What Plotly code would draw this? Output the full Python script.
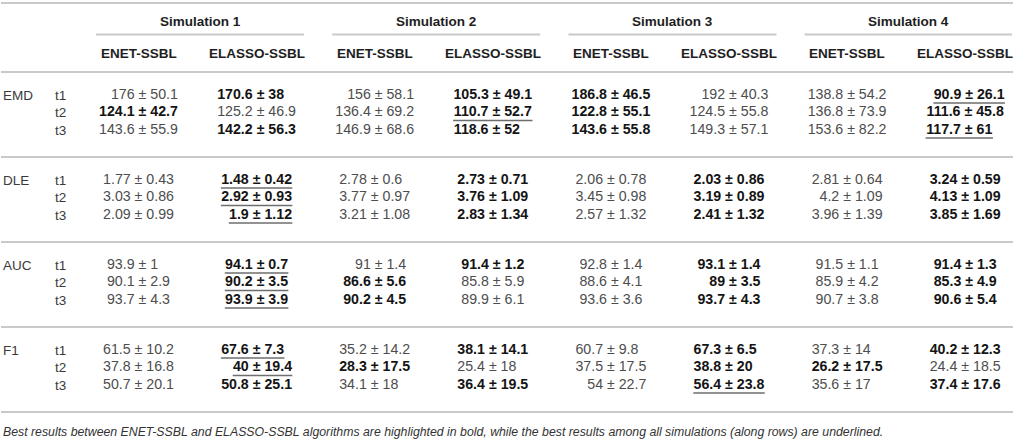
import plotly.graph_objects as go

# ---------------- data ----------------
simulations = ["Simulation 1", "Simulation 2", "Simulation 3", "Simulation 4"]
methods = ["ENET-SSBL", "ELASSO-SSBL"]
metrics = ["EMD", "DLE", "AUC", "F1"]
times = ["t1", "t2", "t3"]

# columns: S1-ENET, S1-ELASSO, S2-ENET, S2-ELASSO, S3-ENET, S3-ELASSO, S4-ENET, S4-ELASSO
emd_mean = [[176, 170.6, 156, 105.3, 186.8, 192, 138.8, 90.9],
            [124.1, 125.2, 136.4, 110.7, 122.8, 124.5, 136.8, 111.6],
            [143.6, 142.2, 146.9, 118.6, 143.6, 149.3, 153.6, 117.7]]
emd_sd = [[50.1, 38, 58.1, 49.1, 46.5, 40.3, 54.2, 26.1],
          [42.7, 46.9, 69.2, 52.7, 55.1, 55.8, 73.9, 45.8],
          [55.9, 56.3, 68.6, 52, 55.8, 57.1, 82.2, 61]]
dle_mean = [[1.77, 1.48, 2.78, 2.73, 2.06, 2.03, 2.81, 3.24],
            [3.03, 2.92, 3.77, 3.76, 3.45, 3.19, 4.2, 4.13],
            [2.09, 1.9, 3.21, 2.83, 2.57, 2.41, 3.96, 3.85]]
dle_sd = [[0.43, 0.42, 0.6, 0.71, 0.78, 0.86, 0.64, 0.59],
          [0.86, 0.93, 0.97, 1.09, 0.98, 0.89, 1.09, 1.09],
          [0.99, 1.12, 1.08, 1.34, 1.32, 1.32, 1.39, 1.69]]
auc_mean = [[93.9, 94.1, 91, 91.4, 92.8, 93.1, 91.5, 91.4],
            [90.1, 90.2, 86.6, 85.8, 88.6, 89, 85.9, 85.3],
            [93.7, 93.9, 90.2, 89.9, 93.6, 93.7, 90.7, 90.6]]
auc_sd = [[1, 0.7, 1.4, 1.2, 1.4, 1.4, 1.1, 1.3],
          [2.9, 3.5, 5.6, 5.9, 4.1, 3.5, 4.2, 4.9],
          [4.3, 3.9, 4.5, 6.1, 3.6, 4.3, 3.8, 5.4]]
f1_mean = [[61.5, 67.6, 35.2, 38.1, 60.7, 67.3, 37.3, 40.2],
           [37.8, 40, 28.3, 25.4, 37.5, 38.8, 26.2, 24.4],
           [50.7, 50.8, 34.1, 36.4, 54, 56.4, 35.6, 37.4]]
f1_sd = [[10.2, 7.3, 14.2, 14.1, 9.8, 6.5, 14, 12.3],
         [16.8, 19.4, 17.5, 18, 17.5, 20, 17.5, 18.5],
         [20.1, 25.1, 18, 19.5, 22.7, 23.8, 17, 17.6]]

# best between ENET / ELASSO (bold in source)
emd_best_pair = [[0, 1, 0, 1, 1, 0, 0, 1], [1, 0, 0, 1, 1, 0, 0, 1], [0, 1, 0, 1, 1, 0, 0, 1]]
dle_best_pair = [[0, 1, 0, 1, 0, 1, 0, 1], [0, 1, 0, 1, 0, 1, 0, 1], [0, 1, 0, 1, 0, 1, 0, 1]]
auc_best_pair = [[0, 1, 0, 1, 0, 1, 0, 1], [0, 1, 1, 0, 0, 1, 0, 1], [0, 1, 1, 0, 0, 1, 0, 1]]
f1_best_pair = [[0, 1, 0, 1, 0, 1, 0, 1], [0, 1, 1, 0, 0, 1, 1, 0], [0, 1, 0, 1, 0, 1, 0, 1]]
# best along the row among all simulations (underlined in source): column index per row
emd_best_row = [7, 3, 7]
dle_best_row = [1, 1, 1]
auc_best_row = [1, 1, 1]
f1_best_row = [1, 1, 5]

caption = ("Best results between ENET-SSBL and ELASSO-SSBL algorithms are highlighted in bold, "
           "while the best results among all simulations (along rows) are underlined.")

means = [emd_mean, dle_mean, auc_mean, f1_mean]
sds = [emd_sd, dle_sd, auc_sd, f1_sd]
best_pairs = [emd_best_pair, dle_best_pair, auc_best_pair, f1_best_pair]
best_rows = [emd_best_row, dle_best_row, auc_best_row, f1_best_row]

# ---------------- layout constants ----------------
W, H = 1016, 441
FONT = "Liberation Sans"
FS_NUM = 14.2
FS_HEAD = 13.5
FS_LABEL = 13.5
COL0, COL_STEP = 138.5, 118.1
HEADER_LINE_Y = 72.0
GROUP_STEP = 85.0
FIRST_OFFSET = 23.0      # header/separator line -> first row of a block
ROW_STEP = 17.5
HEAD1_Y, HEAD2_Y = 21.0, 53.0
TOP_LINE_Y, GROUP_LINE_Y = 3.0, 34.5
CAPTION_Y = 432.0
LINE_COLOR = "#c9c9c9"
REG_COLOR = "#4d4d4d"
BOLD_COLOR = "#141414"
LABEL_COLOR = "#3a3a3a"
UNDERLINE_COLOR = "#6e6e6e"

CHAR_W = {".": 0.278, " ": 0.278, "\u00b1": 0.584}


def tw(s):
    return sum(CHAR_W.get(ch, 0.556) for ch in s)


def fmt(v):
    return f"{v:g}"


ncols = len(simulations) * len(methods)
col_x = [COL0 + COL_STEP * c for c in range(ncols)]

shapes = []


def hline(x0, x1, y, width=2.0, color=LINE_COLOR):
    shapes.append(dict(type="line", xref="x", yref="y", x0=x0, x1=x1, y0=y, y1=y,
                       line=dict(color=color, width=width), layer="above"))


xs, ys, texts, colors = [], [], [], []
for g in range(len(metrics)):
    block_top = HEADER_LINE_Y + g * GROUP_STEP
    for c in range(ncols):
        lefts = [tw(fmt(means[g][r][c]) + " ") + CHAR_W["\u00b1"] / 2 for r in range(len(times))]
        rights = [tw(" " + fmt(sds[g][r][c])) + CHAR_W["\u00b1"] / 2 for r in range(len(times))]
        L, R = max(lefts), max(rights)
        pm_x = col_x[c] + (L - R) / 2 * FS_NUM
        for r in range(len(times)):
            s = f"{fmt(means[g][r][c])} \u00b1 {fmt(sds[g][r][c])}"
            bold = best_pairs[g][r][c] == 1
            cx = pm_x + (rights[r] - lefts[r]) / 2 * FS_NUM
            cy = block_top + FIRST_OFFSET + r * ROW_STEP
            xs.append(cx)
            ys.append(cy)
            texts.append(f"<b>{s}</b>" if bold else s)
            colors.append(BOLD_COLOR if bold else REG_COLOR)
            if best_rows[g][r] == c:
                half = tw(s) * FS_NUM / 2
                hline(cx - half, cx + half, cy + 8, width=1.6, color=UNDERLINE_COLOR)

fig = go.Figure()
fig.add_trace(go.Scatter(
    x=xs, y=ys, mode="text", text=texts, textposition="middle center",
    textfont=dict(family=FONT, size=FS_NUM, color=colors),
    hoverinfo="skip", showlegend=False,
))

annotations = []


def add_text(x, y, text, xanchor="center", size=FS_LABEL, color=LABEL_COLOR):
    annotations.append(dict(x=x, y=y, xref="x", yref="y", text=text, showarrow=False,
                            xanchor=xanchor, yanchor="middle",
                            font=dict(family=FONT, size=size, color=color)))


# headers
for k, sim in enumerate(simulations):
    mid = (col_x[2 * k] + col_x[2 * k + 1]) / 2 + 2.5
    add_text(mid, HEAD1_Y, f"<b>{sim}</b>", size=FS_HEAD, color="#1e1e1e")
    hline(mid - 104, min(mid + 104, 1012), GROUP_LINE_Y)
    for j, m in enumerate(methods):
        add_text(col_x[2 * k + j], HEAD2_Y, f"<b>{m}</b>", size=FS_HEAD, color="#1e1e1e")

hline(1, 1013, TOP_LINE_Y)
hline(1, 1013, HEADER_LINE_Y)

# row labels and block separators
for g, met in enumerate(metrics):
    block_top = HEADER_LINE_Y + g * GROUP_STEP
    y0 = block_top + FIRST_OFFSET
    add_text(1, y0, met, xanchor="left")
    for r, t in enumerate(times):
        add_text(53, y0 + r * ROW_STEP, t, xanchor="left")
    hline(1, 1013, block_top + GROUP_STEP)

add_text(1, CAPTION_Y, f"<i>{caption}</i>", xanchor="left", size=12.3, color="#333333")

fig.update_layout(
    width=W, height=H, autosize=False,
    margin=dict(l=0, r=0, t=0, b=0, pad=0),
    paper_bgcolor="white", plot_bgcolor="white",
    xaxis=dict(range=[0, W], visible=False, fixedrange=True),
    yaxis=dict(range=[H, 0], visible=False, fixedrange=True),
    annotations=annotations, shapes=shapes, showlegend=False,
)

fig.write_html("out.html", config={"displayModeBar": False},
               post_script="document.body.style.margin='0px';")
